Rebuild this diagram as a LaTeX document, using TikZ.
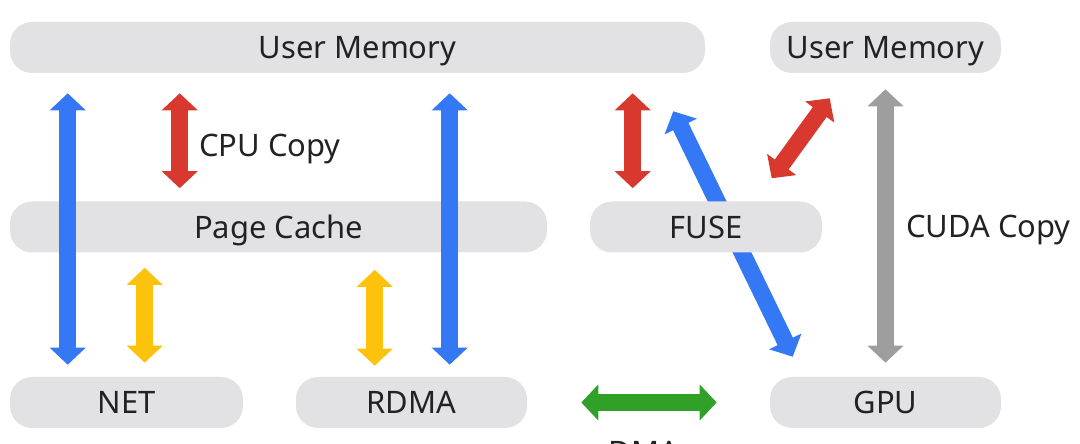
\documentclass[tikz,border=0pt]{standalone}
\usepackage{fontspec}
\setmainfont{Noto Sans}
\usetikzlibrary{arrows.meta,calc}
\definecolor{cblue}{HTML}{3478F6}
\definecolor{cred}{HTML}{D9382E}
\definecolor{cyellow}{HTML}{FCC20C}
\definecolor{cgreen}{HTML}{30A028}
\definecolor{cgrey}{HTML}{9E9E9E}
\definecolor{boxfill}{HTML}{E2E2E4}
\definecolor{ink}{HTML}{222222}

\begin{document}
\begin{tikzpicture}[
  x=0.025cm, y=-0.025cm, % pixel grid, y grows downwards
  font=\fontsize{22}{26}\selectfont,
  layer/.style={fill=boxfill, rounded corners=0.55cm, minimum height=51*0.025cm,
                inner sep=0pt, text=ink, text height=15.7pt, text depth=0pt},
  fat/.style={line width=4.25mm, {Triangle[length=4.25mm, width=8.75mm]}-{Triangle[length=4.25mm, width=8.75mm]}},
  lbl/.style={text=ink, inner sep=0pt},
]
\useasboundingbox (0,0) rectangle (1080,444);

% ---------------- the layers ----------------
\node[layer, minimum width=695*0.025cm] (um)   at (357.5, 47.5) {User Memory};
\node[layer, minimum width=231*0.025cm] (umg)  at (885.5, 47.5) {User Memory};
\node[layer, minimum width=537*0.025cm] (pc)   at (278.5, 227)  {Page Cache};
\node[layer, minimum width=233*0.025cm] (net)  at (126.5, 402.5) {NET};
\node[layer, minimum width=231*0.025cm] (rdma) at (411.5, 402.5) {RDMA};
\node[layer, minimum width=231*0.025cm] (gpu)  at (885.5, 402.5) {GPU};

% the FUSE path runs under its box, so draw it first
\draw[fat, cblue] ($(um.south east)+(-32,38)$) -- ($(gpu.north west)+(23,-20)$);
\node[layer, minimum width=232*0.025cm] (fuse) at (706, 227)    {FUSE};

% ---------------- the copies ----------------
\draw[fat, cred]    ($(um.south west)+(170,20)$)  -- ($(pc.north west)+(170,-13)$);
\draw[fat, cyellow] ($(pc.south west)+(135,15)$)  -- ($(net.north west)+(135,-14)$);
\draw[fat, cyellow] ($(pc.south west)+(365,17)$)  -- ($(rdma.north west)+(79,-11)$);
\draw[fat, cblue]   ($(um.south west)+(58,20)$)   -- ($(net.north west)+(58,-12)$);
\draw[fat, cblue]   ($(um.south west)+(440,20)$)  -- ($(rdma.north west)+(154,-12)$);
\draw[fat, cred]    ($(um.south west)+(623,20)$)  -- ($(fuse.north west)+(43,-13)$);
\draw[fat, cred]    ($(umg.south west)+(2,105)$)  -- ($(umg.south west)+(60,25)$);
\draw[fat, cgrey]   ($(umg.south)+(0,16)$)        -- ($(gpu.north)+(0,-14)$);
\draw[fat, cgreen]  ($(rdma.east)+(54,0)$)        -- ($(gpu.west)+(-53,0)$);

\node[lbl, anchor=base west] (cpu)  at (199, 157) {CPU Copy};
\node[lbl, anchor=base west] (cuda) at (906, 238) {CUDA Copy};
\node[lbl, anchor=base]      (dma)  at (644, 464) {DMA};

\end{tikzpicture}
\end{document}
